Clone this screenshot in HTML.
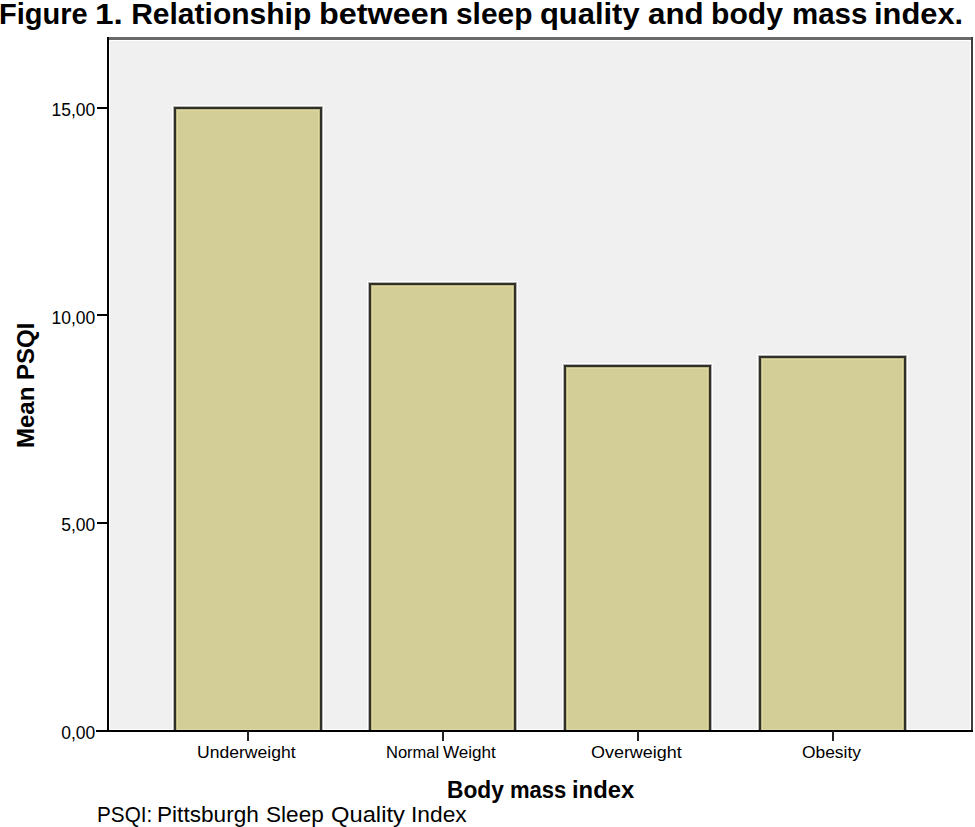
<!DOCTYPE html>
<html>
<head>
<meta charset="utf-8">
<style>
html,body{margin:0;padding:0;background:#fff;}
body{width:975px;height:827px;position:relative;overflow:hidden;font-family:"Liberation Sans",Arial,sans-serif;}
.a{position:absolute;}
.t{position:absolute;white-space:nowrap;line-height:1;color:#000;}
#title{left:0;top:-1.2px;font-size:30px;font-weight:bold;color:#000;}
#title span,#foot span{position:absolute;top:0;transform-origin:0 0;}
#foot{left:0;top:803.5px;font-size:22.5px;color:#000;}
#plot{left:107px;top:37px;width:866px;height:695px;background:#f0f0f0;}
#ftop{left:107px;top:37px;width:866px;height:3px;background:#6a6a6a;}
#fright{left:971px;top:37px;width:2px;height:695px;background:#3c3c3c;}
#fleft{left:107px;top:37px;width:2px;height:695px;background:#000;}
#fbot{left:96px;top:730px;width:877px;height:2px;background:#000;}
.ytick{position:absolute;left:97px;width:11px;height:2px;background:#000;}
.yl{position:absolute;right:879.7px;font-size:17.5px;line-height:1;color:#000;text-align:right;white-space:nowrap;}
.bar{position:absolute;background:#d3ce97;border:2px solid #303028;border-bottom:0;box-sizing:border-box;box-shadow:0 0 0 1px #b4b4b4,0 0 0 2px #fff,inset 1px 0 0 0 #bab683,inset -1px 0 0 0 #bab683,inset 0 1px 0 0 #bab683,inset 2px 0 0 0 #dcd89e,inset -2px 0 0 0 #dcd89e,inset 0 2px 0 0 #dcd89e,inset 0 -1px 0 0 #dcd89e;}
.xtick{position:absolute;top:731px;width:2px;height:10px;background:#222;}
.xl{position:absolute;top:745px;font-size:16px;line-height:1;color:#000;white-space:nowrap;transform-origin:0 0;}
#xt{left:0;top:779px;font-size:23px;font-weight:bold;}
#xt span{position:absolute;top:0;transform-origin:0 0;}
#yt{left:-35px;top:375px;font-size:24px;font-weight:bold;transform:rotate(-90deg);transform-origin:50% 50%;width:122px;}
</style>
</head>
<body>
<div class="t" id="title"><span style="left:-0.93px;transform:scaleX(0.967)">Figure</span> <span style="left:95.27px;transform:scaleX(1.114)">1.</span> <span style="left:131.20px;transform:scaleX(1.0)">Relationship</span> <span style="left:319.14px;transform:scaleX(1.08)">between</span> <span style="left:455.60px;transform:scaleX(0.996)">sleep</span> <span style="left:539.57px;transform:scaleX(1.03)">quality</span> <span style="left:647.76px;transform:scaleX(1.043)">and</span> <span style="left:711.39px;transform:scaleX(1.004)">body</span> <span style="left:791.74px;transform:scaleX(0.981)">mass</span> <span style="left:874.24px;transform:scaleX(1.028)">index.</span></div>

<div class="a" id="plot"></div>
<div class="a" id="ftop"></div>
<div class="a" id="fright"></div>
<div class="a" style="left:109px;top:40px;width:862px;height:1px;background:#fff"></div>
<div class="a" style="left:109px;top:40px;width:1px;height:690px;background:#fff"></div>
<div class="a" style="left:970px;top:40px;width:1px;height:690px;background:#fff"></div>
<div class="a" style="left:109px;top:729px;width:862px;height:1px;background:#fff"></div>

<div class="bar" style="left:174px;top:107px;width:148px;height:623px;"></div>
<div class="bar" style="left:369px;top:283px;width:147px;height:447px;"></div>
<div class="bar" style="left:564px;top:365px;width:147px;height:365px;"></div>
<div class="bar" style="left:759px;top:356px;width:147px;height:374px;"></div>

<div class="a" id="fleft"></div>
<div class="a" id="fbot"></div>

<div class="ytick" style="top:107px"></div>
<div class="ytick" style="top:314px"></div>
<div class="ytick" style="top:522px"></div>

<div class="yl" style="top:102.4px">15,00</div>
<div class="yl" style="top:309.5px">10,00</div>
<div class="yl" style="top:517.4px">5,00</div>
<div class="yl" style="top:725.4px">0,00</div>

<div class="xtick" style="left:247px"></div>
<div class="xtick" style="left:442px"></div>
<div class="xtick" style="left:636.5px"></div>
<div class="xtick" style="left:831.5px"></div>

<div class="xl" style="left:197.3px;transform:scaleX(1.097)">Underweight</div>
<div class="xl" style="left:386.27px;transform:scaleX(1.032)">Normal</div> <div class="xl" style="left:443.2px;transform:scaleX(1.067)">Weight</div>
<div class="xl" style="left:590.58px;transform:scaleX(1.121)">Overweight</div>
<div class="xl" style="left:802.01px;transform:scaleX(1.087)">Obesity</div>

<div class="t" id="xt"><span style="left:446.81px;transform:scaleX(0.989)">Body</span> <span style="left:510.24px;transform:scaleX(0.958)">mass</span> <span style="left:572.33px;transform:scaleX(1.036)">index</span></div>
<div class="t" id="yt">Mean PSQI</div>

<div class="t" id="foot"><span style="left:97.06px;transform:scaleX(0.921)">PSQI:</span> <span style="left:157.29px;transform:scaleX(1.005)">Pittsburgh</span> <span style="left:265.50px;transform:scaleX(1.004)">Sleep</span> <span style="left:330.64px;transform:scaleX(1.055)">Quality</span> <span style="left:410.97px;transform:scaleX(1.013)">Index</span></div>
</body>
</html>
